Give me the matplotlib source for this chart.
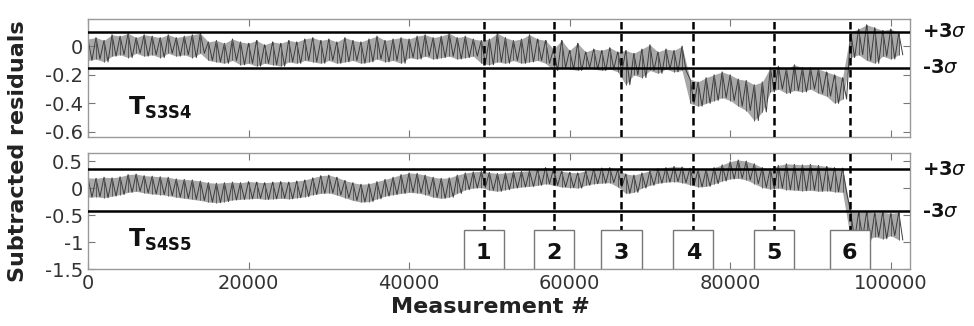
import matplotlib
matplotlib.use("Agg")
import matplotlib.pyplot as plt
import matplotlib.transforms as mtransforms
from matplotlib.patches import Rectangle
from matplotlib.ticker import FuncFormatter
import numpy as np

plt.rcParams['axes.unicode_minus'] = False

# envelope of the residuals, one hi / lo pair per 1000 measurements
bin_size = 1000
s3s4_hi = [0.05, 0.06, 0.04, 0.08, 0.07, 0.09, 0.06, 0.08, 0.07, 0.06,
           0.08, 0.06, 0.07, 0.08, 0.09, 0.03, 0.04, 0.02, 0.05, 0.03,
           0.02, 0.04, 0.01, 0.03, 0.02, 0.04, 0.03, 0.05, 0.06, 0.04,
           0.05, 0.03, 0.06, 0.04, 0.03, 0.05, 0.07, 0.04, 0.05, 0.06,
           0.05, 0.07, 0.08, 0.06, 0.07, 0.09, 0.06, 0.07, 0.05, 0.04,
           0.05, 0.09, 0.06, 0.04, 0.05, 0.08, 0.05, 0.04, -0.02, 0.04,
           -0.03, 0.02, -0.04, -0.02, -0.03, -0.01, -0.04, -0.03, -0.05, -0.02,
           0.01, -0.04, -0.02, -0.03, 0.00, -0.23, -0.25, -0.22, -0.20, -0.18,
           -0.20, -0.23, -0.24, -0.27, -0.25, -0.15, -0.14, -0.16, -0.13, -0.15,
           -0.15, -0.16, -0.18, -0.20, -0.22, 0.10, 0.12, 0.15, 0.13, 0.11,
           0.12, 0.09]
s3s4_lo = [-0.10, -0.09, -0.11, -0.07, -0.06, -0.08, -0.05, -0.07, -0.06, -0.08,
           -0.05, -0.07, -0.06, -0.08, -0.05, -0.10, -0.11, -0.12, -0.10, -0.13,
           -0.12, -0.14, -0.12, -0.13, -0.14, -0.11, -0.12, -0.10, -0.11, -0.12,
           -0.10, -0.12, -0.11, -0.10, -0.12, -0.11, -0.09, -0.11, -0.10, -0.12,
           -0.08, -0.09, -0.07, -0.09, -0.08, -0.07, -0.09, -0.08, -0.07, -0.12,
           -0.13, -0.11, -0.12, -0.10, -0.12, -0.11, -0.10, -0.12, -0.17, -0.15,
           -0.16, -0.17, -0.15, -0.16, -0.17, -0.16, -0.18, -0.27, -0.20, -0.22,
           -0.17, -0.19, -0.16, -0.18, -0.17, -0.40, -0.42, -0.40, -0.38, -0.36,
           -0.38, -0.42, -0.45, -0.52, -0.46, -0.32, -0.30, -0.33, -0.31, -0.32,
           -0.30, -0.33, -0.35, -0.40, -0.37, -0.08, -0.06, -0.10, -0.12, -0.07,
           -0.09, -0.06]
s4s5_hi = [0.19, 0.18, 0.20, 0.19, 0.21, 0.25, 0.26, 0.23, 0.22, 0.21,
           0.20, 0.17, 0.16, 0.15, 0.13, 0.10, 0.09, 0.10, 0.11, 0.10,
           0.12, 0.11, 0.10, 0.11, 0.12, 0.11, 0.13, 0.15, 0.19, 0.23,
           0.24, 0.20, 0.14, 0.10, 0.07, 0.08, 0.12, 0.16, 0.20, 0.25,
           0.28, 0.27, 0.24, 0.20, 0.18, 0.19, 0.24, 0.28, 0.30, 0.31,
           0.29, 0.27, 0.28, 0.30, 0.31, 0.32, 0.34, 0.38, 0.36, 0.31,
           0.29, 0.28, 0.32, 0.35, 0.37, 0.38, 0.34, 0.26, 0.24, 0.28,
           0.32, 0.36, 0.38, 0.40, 0.39, 0.37, 0.33, 0.34, 0.38, 0.43,
           0.49, 0.52, 0.50, 0.45, 0.38, 0.36, 0.42, 0.45, 0.44, 0.43,
           0.44, 0.42, 0.40, 0.38, 0.37, -0.44, -0.45, -0.44, -0.46, -0.45,
           -0.47, -0.45]
s4s5_lo = [-0.17, -0.16, -0.18, -0.15, -0.12, -0.08, -0.06, -0.09, -0.11, -0.12,
           -0.14, -0.17, -0.19, -0.21, -0.23, -0.26, -0.27, -0.25, -0.22, -0.21,
           -0.20, -0.19, -0.21, -0.20, -0.19, -0.20, -0.18, -0.16, -0.12, -0.10,
           -0.09, -0.13, -0.18, -0.23, -0.26, -0.25, -0.20, -0.15, -0.12, -0.10,
           -0.08, -0.09, -0.12, -0.17, -0.19, -0.17, -0.10, -0.03, 0.00, 0.01,
           -0.04, -0.06, -0.03, 0.00, 0.02, 0.03, 0.05, 0.08, 0.05, 0.02,
           0.01, 0.00, 0.05, 0.08, 0.09, 0.10, 0.02, -0.10, -0.08, 0.00,
           0.05, 0.09, 0.11, 0.12, 0.10, 0.06, 0.02, 0.03, 0.08, 0.13,
           0.17, 0.18, 0.15, 0.08, 0.01, -0.02, 0.00, -0.03, -0.04, -0.05,
           -0.04, -0.06, -0.05, -0.07, -0.08, -0.95, -0.92, -0.97, -0.90, -0.94,
           -0.88, -0.96]

# 3 sigma limits
s3s4_sigma = [0.10, -0.15]
s4s5_sigma = [0.35, -0.43]

events = [49300, 58000, 66460, 75400, 85470, 94900]
event_names = ['1', '2', '3', '4', '5', '6']

xticks = [0, 20000, 40000, 60000, 80000, 100000]


def zigzag(hi, lo):
    xs, ys = [], []
    for i in range(len(hi)):
        xs += [i * bin_size, i * bin_size + bin_size / 2]
        ys += [hi[i], lo[i]]
    return xs, ys


fig = plt.figure(figsize=(9.74, 3.26), dpi=100)
ax1 = fig.add_axes([0.0903, 0.5798, 0.844, 0.362])
ax2 = fig.add_axes([0.0903, 0.1748, 0.844, 0.356])

fmt = FuncFormatter(lambda v, p: '%g' % v)

for ax, hi, lo, sig, name in [(ax1, s3s4_hi, s3s4_lo, s3s4_sigma, 'S3S4'),
                               (ax2, s4s5_hi, s4s5_lo, s4s5_sigma, 'S4S5')]:
    xs, ys = zigzag(hi, lo)
    # light band for the dense strokes, then the zigzag on top
    ax.fill_between(xs[::2], lo, hi, color='#a8a8a8', lw=0, zorder=1)
    ax.plot(xs, ys, color='#3c3c3c', lw=0.7, zorder=2)
    ax.vlines(xs[::2], lo, hi, color='#5a5a5a', lw=0.7, zorder=2)
    for s in sig:
        ax.axhline(s, color='black', lw=1.8, zorder=3)
    trans = mtransforms.blended_transform_factory(ax.transAxes, ax.transData)
    ax.text(1.015, sig[0], '+3$\\sigma$', transform=trans, fontsize=14,
            fontweight='bold', va='center', ha='left', color='#111111')
    ax.text(1.015, sig[1], '-3$\\sigma$', transform=trans, fontsize=14,
            fontweight='bold', va='center', ha='left', color='#111111')
    for e in events:
        ax.axvline(e, color='black', lw=1.8, ls=(0, (3, 1.8)), zorder=4)
    ax.text(0.049, 0.25, '$\\mathbf{T_{%s}}$' % name, transform=ax.transAxes,
            fontsize=17, va='center', ha='left', color='#111111')
    ax.set_xlim(0, 102400)
    ax.set_xticks(xticks)
    ax.yaxis.set_major_formatter(fmt)
    ax.tick_params(direction='in', top=True, right=True, length=5,
                   labelsize=14, colors='#333333', width=0.8)
    ax.tick_params(axis='both', color='#777777')
    for sp in ax.spines.values():
        sp.set_color('#999999')
        sp.set_linewidth(1.0)

ax1.set_ylim(-0.635, 0.19)
ax1.set_yticks([0, -0.2, -0.4, -0.6])
ax1.set_xticklabels([])

ax2.set_ylim(-1.5, 0.65)
ax2.set_yticks([0.5, 0, -0.5, -1, -1.5])
ax2.set_xticklabels([str(t) for t in xticks])

box_w = 5000
box_top = -0.78
for e, n in zip(events, event_names):
    ax2.add_patch(Rectangle((e - box_w / 2, -1.5), box_w, box_top + 1.5,
                            facecolor='white', edgecolor='#777777', lw=1.0,
                            zorder=5))
    ax2.text(e, -1.2, n, fontsize=16, fontweight='bold', ha='center',
             va='center', zorder=6, color='#111111')

fig.text(0.018, 0.535, 'Subtracted residuals', rotation=90, fontsize=16,
         fontweight='bold', ha='center', va='center', color='#222222')
fig.text(0.503, 0.058, 'Measurement #', fontsize=16, fontweight='bold',
         ha='center', va='center', color='#222222')

fig.savefig('out.png', dpi=100)
